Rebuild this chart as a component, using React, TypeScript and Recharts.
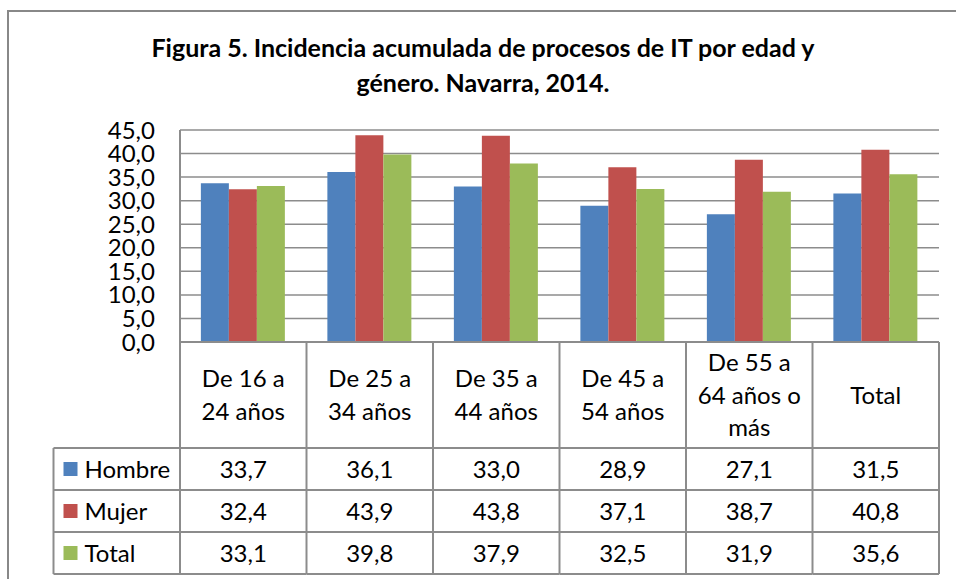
import { BarChart, Bar, XAxis, YAxis, CartesianGrid } from "recharts";

const categories = [
  "De 16 a\n24 años",
  "De 25 a\n34 años",
  "De 35 a\n44 años",
  "De 45 a\n54 años",
  "De 55 a\n64 años o\nmás",
  "Total",
];
const hombre = [33.7, 36.1, 33.0, 28.9, 27.1, 31.5];
const mujer = [32.4, 43.9, 43.8, 37.1, 38.7, 40.8];
const total = [33.1, 39.8, 37.9, 32.5, 31.9, 35.6];
const yTicks = [0, 5, 10, 15, 20, 25, 30, 35, 40, 45];

const series = [
  { key: "hombre", name: "Hombre", color: "#4f81bd", values: hombre },
  { key: "mujer", name: "Mujer", color: "#c0504d", values: mujer },
  { key: "total", name: "Total", color: "#9bbb59", values: total },
];

const data = categories.map((c, i) => ({
  cat: c,
  hombre: hombre[i],
  mujer: mujer[i],
  total: total[i],
}));

const fmt = (v: number) => v.toFixed(1).replace(".", ",");

const FONT = "Lato, 'Noto Sans', sans-serif";
const LINE = "#8c8c8c";
const CAT_H = 106;
const ROW_H = 42;

function TableTick(props: any) {
  const { x, y, payload } = props;
  const i: number = payload.index;
  const half: number = payload.offset ?? 63.25;
  const left = x - half;
  const right = x + half;
  const bottom = y + CAT_H + ROW_H * 3;
  const lines = String(payload.value).split("\n");
  const lh = 32.5;
  const startY = y + CAT_H / 2 - ((lines.length - 1) * lh) / 2 - 1;
  const rowLeft = i === 0 ? left - 2 * half : left;

  return (
    <g fontFamily={FONT} fontSize={24} fill="#000">
      {lines.map((l, k) => (
        <text key={k} x={x} y={startY + k * lh} textAnchor="middle" dominantBaseline="central">
          {l}
        </text>
      ))}
      <line x1={left} y1={y} x2={left} y2={bottom} stroke={LINE} strokeWidth={2} />
      {i === categories.length - 1 && (
        <line x1={right} y1={y} x2={right} y2={bottom} stroke={LINE} strokeWidth={2} />
      )}
      {i === 0 && (
        <line x1={rowLeft} y1={y + CAT_H} x2={rowLeft} y2={bottom} stroke={LINE} strokeWidth={2} />
      )}
      {[0, 1, 2, 3].map((r) => (
        <line
          key={r}
          x1={rowLeft}
          y1={y + CAT_H + r * ROW_H}
          x2={right}
          y2={y + CAT_H + r * ROW_H}
          stroke={LINE}
          strokeWidth={2}
        />
      ))}
      {series.map((s, r) => (
        <text
          key={s.key}
          x={x}
          y={y + CAT_H + r * ROW_H + ROW_H / 2 - 1}
          textAnchor="middle"
          dominantBaseline="central"
        >
          {fmt(s.values[i])}
        </text>
      ))}
      {i === 0 &&
        series.map((s, r) => (
          <g key={"lg" + s.key}>
            <rect
              x={rowLeft + 10}
              y={y + CAT_H + r * ROW_H + ROW_H / 2 - 7}
              width={14}
              height={14}
              fill={s.color}
            />
            <text
              x={rowLeft + 31}
              y={y + CAT_H + r * ROW_H + ROW_H / 2 - 1}
              dominantBaseline="central"
            >
              {s.name}
            </text>
          </g>
        ))}
    </g>
  );
}

export default function App() {
  return (
    <div
      style={{
        position: "fixed",
        left: 0,
        top: 0,
        width: 956,
        height: 579,
        overflow: "hidden",
        background: "#fff",
      }}
    >
      <div
        style={{
          position: "absolute",
          left: 7,
          top: 10,
          width: 980,
          height: 620,
          border: "2px solid #888",
        }}
      />
      <div
        style={{
          position: "absolute",
          left: 8,
          top: 30,
          width: 950,
          textAlign: "center",
          fontFamily: FONT,
          fontWeight: "bold",
          fontSize: 25,
          lineHeight: "35px",
          color: "#000",
        }}
      >
        Figura 5. Incidencia acumulada de procesos de IT por edad y
        <br />
        género. Navarra, 2014.
      </div>
      <div style={{ position: "absolute", left: 0, top: 0 }}>
        <BarChart
          width={956}
          height={579}
          data={data}
          margin={{ top: 130, right: 17, bottom: 0, left: 0 }}
          barCategoryGap="16.5%"
          barGap={0}
        >
          <CartesianGrid vertical={false} stroke={LINE} strokeWidth={1.5} />
          <XAxis
            dataKey="cat"
            height={237}
            interval={0}
            tickLine={false}
            tickSize={0}
            tickMargin={0}
            axisLine={{ stroke: LINE, strokeWidth: 2 }}
            tick={<TableTick />}
          />
          <YAxis
            width={180}
            domain={[0, 45]}
            ticks={yTicks}
            interval={0}
            tickFormatter={fmt}
            tickLine={false}
            tickSize={0}
            tickMargin={25}
            axisLine={{ stroke: LINE, strokeWidth: 2 }}
            tick={{ fill: "#000", fontSize: 24, fontFamily: FONT }}
          />
          {series.map((s) => (
            <Bar key={s.key} dataKey={s.key} name={s.name} fill={s.color} isAnimationActive={false} />
          ))}
        </BarChart>
      </div>
    </div>
  );
}
